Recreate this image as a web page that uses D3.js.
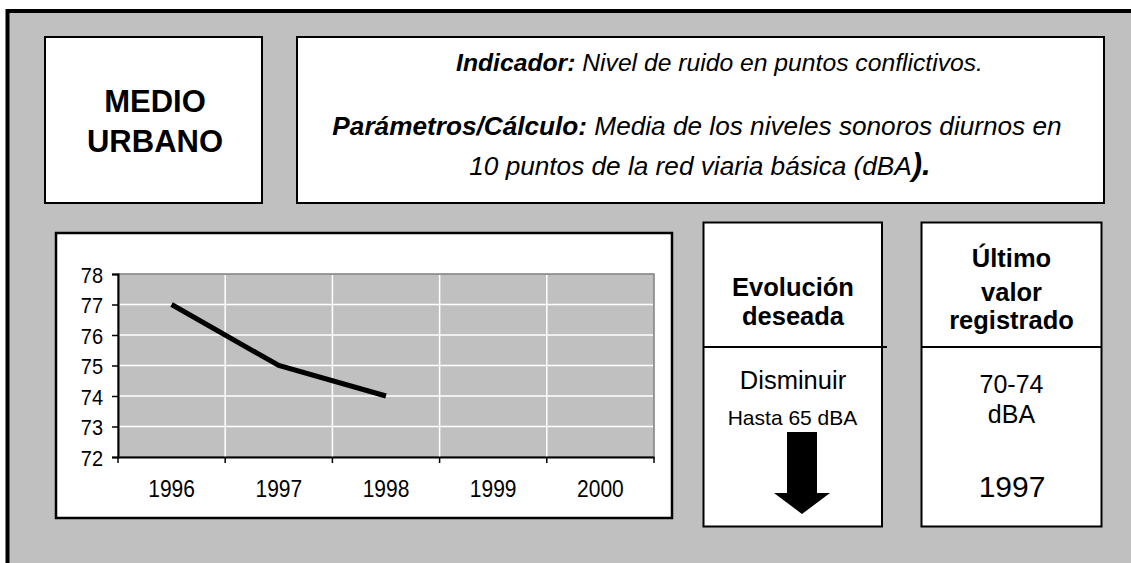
<!DOCTYPE html>
<html>
<head>
<meta charset="utf-8">
<script src="https://cdn.jsdelivr.net/npm/d3@7"></script>
<style>
  html, body { margin: 0; padding: 0; background: #ffffff; }
  svg { display: block; }
  text { font-family: "Liberation Sans", Arial, Helvetica, sans-serif; fill: #000; }
</style>
</head>
<body>
<svg id="chart" width="1131" height="563"></svg>
<script>
// ---- data ----
const years = ["1996", "1997", "1998", "1999", "2000"];
const noiseValues = [77, 75, 74, null, null];
const yTicks = [72, 73, 74, 75, 76, 77, 78];
const titleLines = ["MEDIO", "URBANO"];
const evolHeader = ["Evolución", "deseada"];
const evolBody = ["Disminuir", "Hasta 65 dBA"];
const lastHeader = ["Último", "valor", "registrado"];
const lastValue = ["70-74", "dBA"];
const lastYear = "1997";

const svg = d3.select("#chart");

// outer panel
svg.append("rect").attr("x", 7.5).attr("y", 11).attr("width", 1140).attr("height", 570)
  .attr("fill", "#c0c0c0").attr("stroke", "#000").attr("stroke-width", 4);

function box(x0, y0, x1, y1, sw) {
  return svg.append("rect").attr("x", x0).attr("y", y0).attr("width", x1 - x0).attr("height", y1 - y0)
    .attr("fill", "#fff").attr("stroke", "#000").attr("stroke-width", sw || 2);
}

// MEDIO URBANO
box(45, 37, 262, 203);
svg.append("g").selectAll("text").data(titleLines).join("text")
  .attr("x", 155).attr("y", (d, i) => 112 + i * 40)
  .attr("text-anchor", "middle").attr("font-size", 31).attr("font-weight", "bold")
  .text(d => d);

// Indicator box
box(297, 37, 1104, 203);
const t1 = svg.append("text").attr("x", 719.5).attr("y", 71).attr("text-anchor", "middle")
  .attr("font-size", 24.7).attr("font-style", "italic");
t1.append("tspan").attr("font-weight", "bold").text("Indicador:");
t1.append("tspan").text(" Nivel de ruido en puntos conflictivos.");
const t2 = svg.append("text").attr("x", 697).attr("y", 135).attr("text-anchor", "middle")
  .attr("font-size", 26.2).attr("font-style", "italic");
t2.append("tspan").attr("font-weight", "bold").text("Parámetros/Cálculo:");
t2.append("tspan").text(" Media de los niveles sonoros diurnos en");
const t3 = svg.append("text").attr("x", 700).attr("y", 175).attr("text-anchor", "middle")
  .attr("font-size", 26.2).attr("font-style", "italic");
t3.append("tspan").text("10 puntos de la red viaria básica (dBA");
t3.append("tspan").attr("font-size", 31).attr("font-weight", "bold").text(").");

// Chart box
box(56, 233, 672, 518, 2.5);

const plot = { left: 118, right: 654, top: 274, bottom: 457 };
const x = d3.scaleBand().domain(years).range([plot.left, plot.right]).padding(0);
const y = d3.scaleLinear().domain([72, 78]).range([plot.bottom, plot.top]);

svg.append("rect").attr("x", plot.left).attr("y", plot.top)
  .attr("width", plot.right - plot.left).attr("height", plot.bottom - plot.top)
  .attr("fill", "#c0c0c0").attr("stroke", "#808080").attr("stroke-width", 1.5);

// grid
const grid = svg.append("g");
grid.selectAll("line.h").data(yTicks.slice(1, -1)).join("line")
  .attr("x1", plot.left).attr("x2", plot.right - 1)
  .attr("y1", d => y(d)).attr("y2", d => y(d))
  .attr("stroke", "#fff").attr("stroke-width", 1.5);
grid.selectAll("line.v").data(years.slice(1)).join("line")
  .attr("x1", d => x(d)).attr("x2", d => x(d))
  .attr("y1", plot.top + 1).attr("y2", plot.bottom)
  .attr("stroke", "#fff").attr("stroke-width", 1.5);

// axes
const yAxis = d3.axisLeft(y).tickValues(yTicks).tickSize(6).tickPadding(9).tickFormat(d3.format("d"));
const gy = svg.append("g").attr("transform", `translate(${plot.left},0)`).call(yAxis);
gy.select(".domain").attr("stroke", "#000").attr("stroke-width", 2);
gy.selectAll(".tick line").attr("stroke", "#000").attr("stroke-width", 1.5);
gy.selectAll(".tick text").attr("font-size", 20).attr("font-family", "Liberation Sans, Arial, sans-serif")
  .attr("fill", "#000").attr("x", -15).attr("dy", "0.36em").attr("transform", "scale(1,1.12)");

const xAxis = d3.axisBottom(x).tickSize(0).tickPadding(0);
const gx = svg.append("g").attr("transform", `translate(0,${plot.bottom})`).call(xAxis);
gx.select(".domain").attr("stroke", "#000").attr("stroke-width", 2);
gx.selectAll(".tick text").attr("font-size", 21).attr("font-family", "Liberation Sans, Arial, sans-serif")
  .attr("fill", "#000").attr("dy", 0).attr("y", 40 / 1.13).attr("transform", "scale(1,1.13)");
// category boundary ticks
gx.selectAll("line.bt").data(years.concat(["end"])).join("line")
  .attr("x1", (d, i) => i < years.length ? x(d) : plot.right)
  .attr("x2", (d, i) => i < years.length ? x(d) : plot.right)
  .attr("y1", 0).attr("y2", 6).attr("stroke", "#000").attr("stroke-width", 1.5);

// data line
const line = d3.line()
  .defined(d => d.v != null)
  .x(d => x(d.year) + x.bandwidth() / 2)
  .y(d => y(d.v));
svg.append("path")
  .datum(years.map((yr, i) => ({ year: yr, v: noiseValues[i] })))
  .attr("d", line).attr("fill", "none").attr("stroke", "#000").attr("stroke-width", 5);

// Evolución box
box(703.5, 222.5, 882, 526.5);
svg.append("line").attr("x1", 703.5).attr("x2", 887).attr("y1", 347).attr("y2", 347)
  .attr("stroke", "#000").attr("stroke-width", 2);
svg.append("g").selectAll("text").data(evolHeader).join("text")
  .attr("x", 793).attr("y", (d, i) => 296 + i * 29)
  .attr("text-anchor", "middle").attr("font-size", 25.5).attr("font-weight", "bold").text(d => d);
svg.append("text").attr("x", 793).attr("y", 389).attr("text-anchor", "middle")
  .attr("font-size", 25.5).text(evolBody[0]);
svg.append("text").attr("x", 792.5).attr("y", 425).attr("text-anchor", "middle")
  .attr("font-size", 21).text(evolBody[1]);
// arrow
const ax = 802;
svg.append("path")
  .attr("d", `M${ax - 15},432 L${ax + 15},432 L${ax + 15},493 L${ax + 28},493 L${ax},514 L${ax - 28},493 L${ax - 15},493 Z`)
  .attr("fill", "#000");

// Último box
box(921.5, 222.5, 1101.5, 526.5);
svg.append("line").attr("x1", 921.5).attr("x2", 1101.5).attr("y1", 347).attr("y2", 347)
  .attr("stroke", "#000").attr("stroke-width", 2);
const lastYs = [267, 301, 329];
svg.append("g").selectAll("text").data(lastHeader).join("text")
  .attr("x", 1011.5).attr("y", (d, i) => lastYs[i])
  .attr("text-anchor", "middle").attr("font-size", 25.5).attr("font-weight", "bold").text(d => d);
svg.append("g").selectAll("text").data(lastValue).join("text")
  .attr("x", 1011.5).attr("y", (d, i) => 393 + i * 30)
  .attr("text-anchor", "middle").attr("font-size", 25).text(d => d);
svg.append("text").attr("x", 1012).attr("y", 497).attr("text-anchor", "middle")
  .attr("font-size", 30).text(lastYear);
</script>
</body>
</html>
